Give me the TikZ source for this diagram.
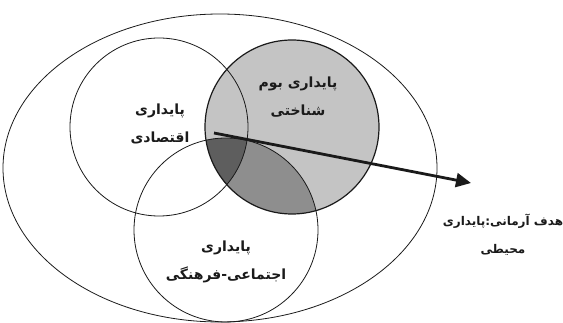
\documentclass[tikz,border=0pt]{standalone}
\usepackage{fontspec}
\newfontfamily\arabicfont[Script=Arabic,BoldFont={DejaVu Sans Bold}]{DejaVu Sans}
\TeXXeTstate=1
\usepackage{tikz}
\usetikzlibrary{arrows.meta}
\definecolor{Ink}{HTML}{1A1A1A}
\definecolor{EcoGray}{HTML}{C4C4C4}
\definecolor{MidGray}{HTML}{8E8E8E}
\definecolor{CoreGray}{HTML}{5E5E5E}
\tikzset{
  areatext/.style={font=\arabicfont\bfseries\fontsize{14}{28}\selectfont, text=Ink, align=center},
  goaltext/.style={areatext, font=\arabicfont\bfseries\fontsize{12}{28}\selectfont},
  ring/.style={draw=Ink, line width=0.8pt}
}

\begin{document}
\begin{tikzpicture}[x=1pt,y=-1pt]
  \useasboundingbox (0,0) rectangle (563,323);
  % shaded ecological circle and overlaps
  \fill[EcoGray] (292,127) circle (87);
  \begin{scope}
    \clip (292,127) circle (87);
    \fill[MidGray] (226,230) circle (92);
    \clip (226,230) circle (92);
    \fill[CoreGray] (159,127) circle (89);
  \end{scope}
  % outlines
  \draw[ring] (220,168) ellipse (217 and 154);
  \draw[ring] (159,127) circle (89);
  \draw[ring, line width=1.2pt] (292,127) circle (87);
  \draw[ring] (226,230) circle (92);
  % labels
  \node[areatext] (econ) at (160,124) {\beginR پایداری\\ اقتصادی\endR};
  \node[areatext] (eco) at (298,97) {\beginR پایداری بوم\\ شناختی\endR};
  \node[areatext] (soc) at (226,262) {\beginR پایداری\\ اجتماعی-فرهنگی\endR};
  \node[goaltext] (goal) at (503,235) {\beginR هدف آرمانی:پایداری\\ محیطی\endR};
  % arrow
  \coordinate (core) at (214,133);
  \coordinate (tip) at (471,183);
  \draw[-{Triangle[length=15pt,width=14pt]}, line width=2.8pt, Ink] (core) -- (tip);
\end{tikzpicture}
\end{document}
